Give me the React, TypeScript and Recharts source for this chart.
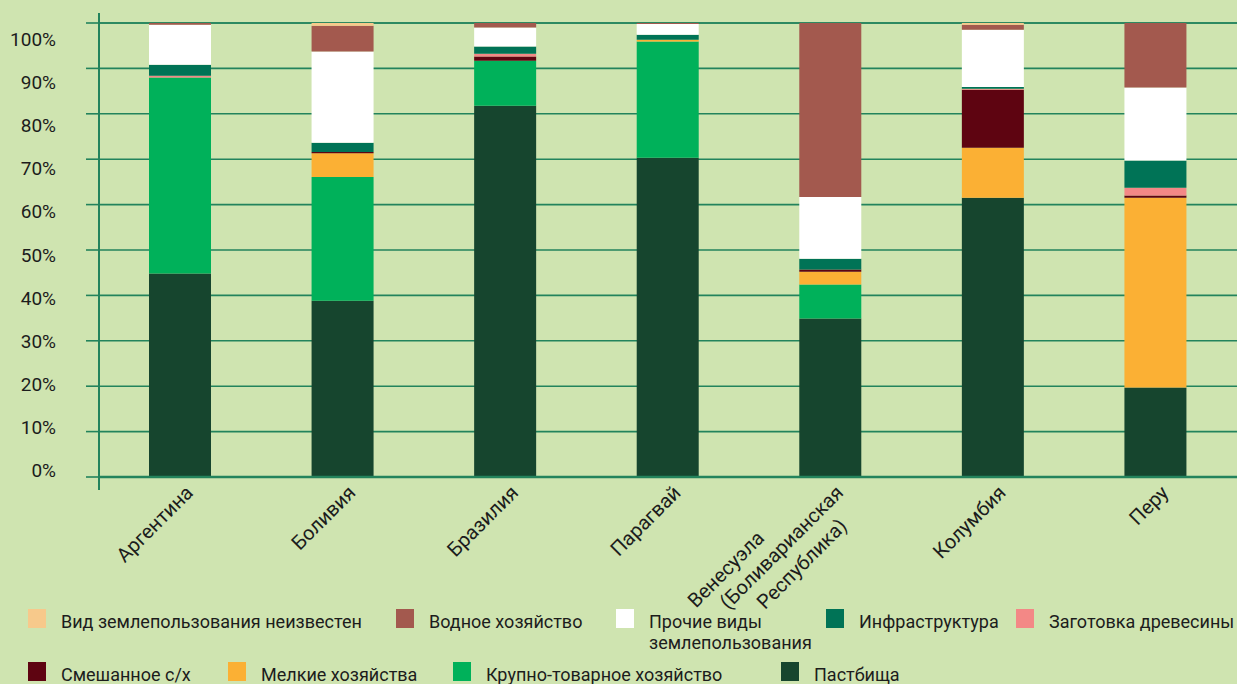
import React from 'react';
import { BarChart, Bar, XAxis, YAxis, CartesianGrid } from 'recharts';

const categories = ['Аргентина', 'Боливия', 'Бразилия', 'Парагвай', 'Венесуэла (Боливарианская Республика)', 'Колумбия', 'Перу'];
const tickLines = [
  ['Аргентина'],
  ['Боливия'],
  ['Бразилия'],
  ['Парагвай'],
  ['Венесуэла', '(Боливарианская', 'Республика)'],
  ['Колумбия'],
  ['Перу'],
];

// values in %, bottom of the stack first
const pastures = [44.8, 38.8, 81.8, 70.3, 34.9, 61.5, 19.7];
const largeFarms = [43.2, 27.3, 9.9, 25.6, 7.5, 0, 0];
const smallFarms = [0, 5.2, 0, 0.4, 2.8, 11.0, 41.8];
const mixedAgri = [0, 0.3, 0.9, 0, 0.5, 12.8, 0.5];
const timber = [0.4, 0, 0.6, 0, 0, 0.2, 1.7];
const infrastructure = [2.4, 2.0, 1.6, 1.1, 2.4, 0.4, 6.0];
const otherUses = [8.8, 20.1, 4.2, 2.4, 13.6, 12.6, 16.1];
const water = [0.4, 5.7, 1.0, 0.2, 38.3, 1.1, 14.2];
const unknownUse = [0, 0.6, 0, 0, 0, 0.4, 0];

const yTicks = [0, 10, 20, 30, 40, 50, 60, 70, 80, 90, 100];

const series = [
  { key: 'pastures', name: 'Пастбища', values: pastures, color: '#16452e' },
  { key: 'large', name: 'Крупно-товарное хозяйство', values: largeFarms, color: '#00b15a' },
  { key: 'small', name: 'Мелкие хозяйства', values: smallFarms, color: '#fbb034' },
  { key: 'mixed', name: 'Смешанное с/х', values: mixedAgri, color: '#5e0411' },
  { key: 'timber', name: 'Заготовка древесины', values: timber, color: '#f38886' },
  { key: 'infra', name: 'Инфраструктура', values: infrastructure, color: '#007356' },
  { key: 'other', name: 'Прочие виды землепользования', values: otherUses, color: '#ffffff' },
  { key: 'water', name: 'Водное хозяйство', values: water, color: '#a3594e' },
  { key: 'unknown', name: 'Вид землепользования неизвестен', values: unknownUse, color: '#f7c98b' },
];

const data = categories.map((name, i) => {
  const row: Record<string, string | number> = { name };
  series.forEach(s => { row[s.key] = s.values[i]; });
  return row;
});

const BG = '#cfe4b0';
const LINE = '#23835c';
const FONT = 'Roboto, "Liberation Sans", sans-serif';
const TEXT = '#1c1c1c';

const YTick = ({ x, y, payload }: any) => {
  const v = payload.value as number;
  // labels sit a little off the grid lines, as in the original
  const dy = -6.6 + 0.223 * v + 7;
  const ax = x + 13;
  return (
    <g>
      <text x={x - 30} y={y + dy} textAnchor="end" fontSize={19} fontFamily={FONT} fill={TEXT}>
        {v}%
      </text>
      {v === 0 && <line x1={ax} x2={ax} y1={y} y2={y + 13} stroke={LINE} strokeWidth={2} />}
      {v === 100 && <line x1={ax} x2={ax} y1={y - 10} y2={y} stroke={LINE} strokeWidth={2} />}
    </g>
  );
};

const lineOffsets: Record<number, number[][]> = {
  1: [[0, 0]],
  3: [[-88, -24], [0, 0], [-21, 26]],
};

const XTick = ({ x, y, index }: any) => {
  const lines = tickLines[index] || [];
  const offs = lineOffsets[lines.length] || lines.map(() => [0, 0]);
  return (
    <g transform={`translate(${x + 14},${y + 17})`}>
      {lines.map((l, i) => (
        <text
          key={i}
          x={offs[i][0]}
          y={offs[i][1]}
          transform="rotate(-45)"
          textAnchor="end"
          fontSize={20}
          fontFamily={FONT}
          fill={TEXT}
        >
          {l}
        </text>
      ))}
    </g>
  );
};

const legendRows = [
  ['unknown', 'water', 'other', 'infra', 'timber'],
  ['mixed', 'small', 'large', 'pastures'],
];
const legendLeft: Record<string, number> = {
  unknown: 28, water: 396, other: 616, infra: 826, timber: 1016,
  mixed: 28, small: 228, large: 453, pastures: 781,
};
const legendLines: Record<string, string[]> = {
  other: ['Прочие виды', 'землепользования'],
};

function Legend() {
  return (
    <>
      {legendRows.map((row, r) =>
        row.map(key => {
          const s = series.find(it => it.key === key)!;
          const top = r === 0 ? 609 : 662;
          const lines = legendLines[key] || [s.name];
          return (
            <div key={key} style={{ position: 'absolute', left: legendLeft[key], top, display: 'flex', alignItems: 'flex-start' }}>
              <div style={{ width: 18, height: 19, background: s.color, flexShrink: 0 }} />
              <div style={{ marginLeft: 15, fontSize: 18, lineHeight: '21px', fontFamily: FONT, color: TEXT, whiteSpace: 'nowrap', marginTop: 2 }}>
                {lines.map((l, i) => <div key={i}>{l}</div>)}
              </div>
            </div>
          );
        })
      )}
    </>
  );
}

export default function App() {
  return (
    <div style={{ position: 'absolute', left: 0, top: 0, width: 1237, height: 684, background: BG, overflow: 'hidden' }}>
      <BarChart width={1237} height={684} data={data} margin={{ top: 23, right: 0, bottom: 177, left: 0 }}>
        <CartesianGrid vertical={false} stroke={LINE} strokeWidth={1.6} />
        <XAxis
          dataKey="name"
          interval={0}
          tickLine={false}
          tickSize={0}
          tickMargin={0}
          height={30}
          axisLine={{ stroke: LINE, strokeWidth: 2.5 }}
          tick={<XTick />}
        />
        <YAxis
          type="number"
          domain={[0, 100]}
          ticks={yTicks}
          interval={0}
          width={99}
          tickSize={13}
          tickMargin={0}
          tickLine={{ stroke: LINE, strokeWidth: 1.6 }}
          axisLine={{ stroke: LINE, strokeWidth: 2 }}
          tick={<YTick />}
        />
        {series.map(s => (
          <Bar key={s.key} dataKey={s.key} name={s.name} stackId="a" fill={s.color} barSize={62} isAnimationActive={false} />
        ))}
      </BarChart>
      <Legend />
    </div>
  );
}
